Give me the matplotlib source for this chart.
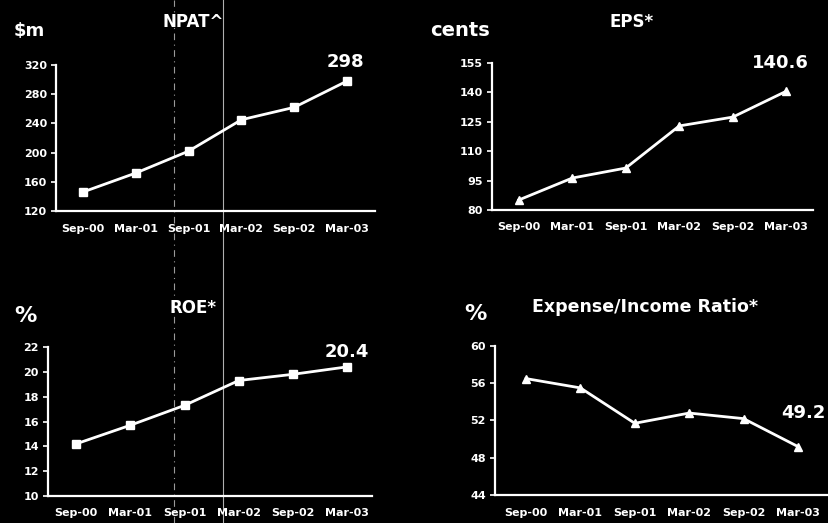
import matplotlib
matplotlib.use("Agg")
import matplotlib.pyplot as plt
from matplotlib.lines import Line2D

plt.rcParams['font.family'] = ['DejaVu Sans']
plt.rcParams['font.weight'] = 'bold'

periods = ["Sep-00", "Mar-01", "Sep-01", "Mar-02", "Sep-02", "Mar-03"]

npat = [146, 172, 202, 245, 262, 298]
eps = [85.1, 96.3, 101.4, 122.9, 127.4, 140.6]
roe = [14.2, 15.7, 17.3, 19.3, 19.8, 20.4]
exp_income = [56.5, 55.5, 51.7, 52.8, 52.2, 49.2]

npat_ticks = [120, 160, 200, 240, 280, 320]
eps_ticks = [80, 95, 110, 125, 140, 155]
roe_ticks = [10, 12, 14, 16, 18, 20, 22]
exp_ticks = [44, 48, 52, 56, 60]

W, H = 829, 523
fig = plt.figure(figsize=(W / 100, H / 100), dpi=100, facecolor='black')


def px_axes(left, top, right, bottom):
    return fig.add_axes([left / W, 1 - bottom / H, (right - left) / W, (bottom - top) / H])


def style(ax, values, ticks, xlim, marker, label, offset, ha='center'):
    ax.patch.set_alpha(0)
    x = list(range(len(periods)))
    ax.plot(x, values, color='white', lw=2, marker=marker, ms=6,
            mfc='white', mec='white', clip_on=False, zorder=3)
    ax.set_xlim(*xlim)
    ax.set_ylim(ticks[0], ticks[-1])
    ax.set_yticks(ticks)
    ax.set_yticklabels([str(t) for t in ticks])
    ax.set_xticks(x)
    ax.set_xticklabels(periods)
    for s in ['top', 'right']:
        ax.spines[s].set_visible(False)
    for s in ['left', 'bottom']:
        ax.spines[s].set_color('white')
        ax.spines[s].set_linewidth(1.6)
    ax.tick_params(axis='y', colors='white', labelsize=8, length=3.5, width=1.2, pad=3)
    ax.tick_params(axis='x', colors='white', labelsize=8, length=0, pad=9)
    for t in ax.get_xticklabels() + ax.get_yticklabels():
        t.set_fontweight('bold')
    ax.annotate(label, (x[-1], values[-1]), xytext=offset, textcoords='offset points',
                ha=ha, va='bottom', color='white', fontsize=13, fontweight='bold',
                annotation_clip=False)


ax1 = px_axes(56, 65, 375, 211)
style(ax1, npat, npat_ticks, (-0.51, 5.53), 's', "298", (-1, 7))
ax2 = px_axes(492, 63, 813, 210)
style(ax2, eps, eps_ticks, (-0.5, 5.5), '^', "140.6", (-4, 14))
ax3 = px_axes(48, 347, 372, 496)
style(ax3, roe, roe_ticks, (-0.52, 5.46), 's', "20.4", (0, 4))
ax4 = px_axes(495, 346, 829, 495)
style(ax4, exp_income, exp_ticks, (-0.57, 5.57), '^', "49.2", (-12, 18), ha='left')


def ftext(x, y, s, size, **kw):
    fig.text(x / W, 1 - y / H, s, color='white', fontsize=size, fontweight='bold',
             ha='center', va='center', **kw)


ftext(29, 31, "$m", 13)
ftext(193, 22, "NPAT^", 12)
ftext(460, 31, "cents", 14)
ftext(632, 22, "EPS*", 12)
ftext(25, 316, "%", 16)
ftext(193, 308, "ROE*", 12)
ftext(475, 314, "%", 16)
ftext(645, 307, "Expense/Income Ratio*", 12.5)

# faint guide lines running down the left half
fig.add_artist(Line2D([174 / W, 174 / W], [0, 1], transform=fig.transFigure,
                      color='#9a9a9a', lw=0.8, ls=(0, (6, 4, 1, 4)), zorder=0))
fig.add_artist(Line2D([223 / W, 223 / W], [0, 1], transform=fig.transFigure,
                      color='#b0b0b0', lw=0.8, zorder=0))

fig.savefig("out.png", dpi=100, facecolor='black')
